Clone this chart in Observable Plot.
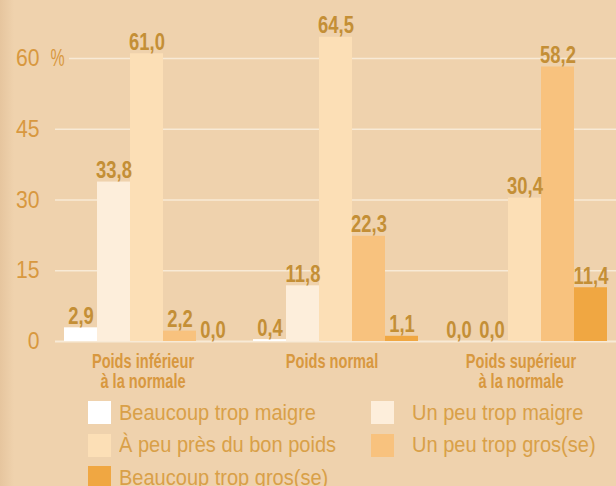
<!DOCTYPE html>
<html>
<head>
<meta charset="utf-8">
<script src="https://cdn.jsdelivr.net/npm/d3@7"></script>
<script src="https://cdn.jsdelivr.net/npm/@observablehq/plot@0.6"></script>
<style>
  html, body { margin: 0; padding: 0; }
  body {
    width: 616px; height: 486px; overflow: hidden;
    background: linear-gradient(to right, #E6C59E 0px, #EFD2AD 14px, #EFD2AD 100%);
    font-family: "Liberation Sans", Arial, sans-serif;
  }
  #chart svg { display: block; }
  .legend {
    display: grid;
    grid-template-columns: 283px auto;
    row-gap: 9.5px;
    padding-left: 88px;
    padding-top: 6px;
    color: #D9A048;
    font-size: 22px;
  }
  .item { display: flex; align-items: center; height: 23px; white-space: nowrap; }
  .sw { width: 23px; height: 23px; margin-right: 8px; flex: none; }
  .item.c2 .sw { margin-right: 18px; }
  .lbl { display: inline-block; transform: scaleX(0.91); transform-origin: 0 50%; }
</style>
</head>
<body>
<div id="chart"></div>
<div class="legend" id="legend"></div>
<script>
const groups = ["Poids inférieur\nà la normale", "Poids normal", "Poids supérieur\nà la normale"];
const series = ["Beaucoup trop maigre", "Un peu trop maigre", "À peu près du bon poids", "Un peu trop gros(se)", "Beaucoup trop gros(se)"];
const seriesColors = ["#FFFFFF", "#FDEEDB", "#FCDFB6", "#F8C27E", "#F0A742"];
const valuesInferieur = [2.9, 33.8, 61.0, 2.2, 0.0];
const valuesNormal = [0.4, 11.8, 64.5, 22.3, 1.1];
const valuesSuperieur = [0.0, 0.0, 30.4, 58.2, 11.4];
const yTicks = [0, 15, 30, 45, 60];

const valuesByGroup = [valuesInferieur, valuesNormal, valuesSuperieur];
const data = [];
groups.forEach((g, gi) => series.forEach((s, si) => data.push({group: g, series: s, value: valuesByGroup[gi][si]})));

const gridColor = "#F8EAD6";
const tickColor = "#D8983F";
const valueColor = "#C48F36";
const catColor = "#D8983F";

const firstFacetTicks = yTicks.filter(t => t !== 60).map(t => ({g: groups[0], v: t}));
const otherFacetTicks = groups.slice(1).flatMap(g => yTicks.map(t => ({g, v: t})));

const chart = Plot.plot({
  width: 616,
  height: 395,
  marginLeft: 51,
  marginRight: -3,
  marginTop: 58,
  marginBottom: 54,
  style: {background: "transparent", fontFamily: "'Liberation Sans', Arial, sans-serif", overflow: "visible"},
  fx: {domain: groups, paddingInner: 0, paddingOuter: 0, axis: null, label: null},
  x: {domain: series, paddingInner: 0, paddingOuter: 0.35, axis: null, round: true},
  y: {domain: [0, 60], axis: null},
  color: {domain: series, range: seriesColors},
  marks: [
    Plot.ruleY(firstFacetTicks, {fx: "g", y: "v", stroke: gridColor, strokeWidth: d => d.v === 0 ? 2 : 1.3, insetLeft: 3}),
    Plot.ruleY([{g: groups[0], v: 60}], {fx: "g", y: "v", stroke: gridColor, strokeWidth: 1.3, insetLeft: 17}),
    Plot.ruleY(otherFacetTicks, {fx: "g", y: "v", stroke: gridColor, strokeWidth: d => d.v === 0 ? 2 : 1.3}),
    Plot.barY(data, {fx: "group", x: "series", y: "value", fill: "series", inset: 0}),
    Plot.text(data, {
      fx: "group", x: "series", y: "value",
      text: d => d.value.toFixed(1).replace(".", ","),
      lineAnchor: "bottom", dy: -4,
      fill: valueColor, fontWeight: "bold", fontSize: 23
    }),
    Plot.text(yTicks, {
      fx: () => groups[0], y: d => d, text: d => String(d),
      frameAnchor: "left", textAnchor: "end", dx: -13,
      fill: tickColor, fontSize: 23.5
    }),
    Plot.text([60], {
      fx: () => groups[0], y: d => d, text: () => "%",
      frameAnchor: "left", textAnchor: "start", dx: -2,
      fill: tickColor, fontSize: 23.4
    }),
    Plot.text(groups, {
      fx: d => d, text: d => d,
      frameAnchor: "bottom", lineAnchor: "top", dy: 12, dx: -4,
      lineHeight: 1.0,
      fill: catColor, fontWeight: "bold", fontSize: 20
    })
  ]
});
document.getElementById("chart").appendChild(chart);

// condensed look: horizontal scaling of the label text, keyed by font size
const condense = {"23": 0.8, "20": 0.73, "23.5": 0.9, "23.4": 0.68};
chart.querySelectorAll("text").forEach(t => {
  const fsEl = t.closest("[font-size]");
  const fs = fsEl ? fsEl.getAttribute("font-size") : null;
  const s = condense[fs];
  if (!s) return;
  const tr = t.getAttribute("transform");
  if (tr) {
    t.setAttribute("transform", tr + ` scale(${s},1)`);
  } else {
    const x = +t.getAttribute("x") || 0, y = +t.getAttribute("y") || 0;
    t.removeAttribute("x"); t.removeAttribute("y");
    t.setAttribute("transform", `translate(${x},${y}) scale(${s},1)`);
  }
});

const legend = document.getElementById("legend");
series.forEach((s, i) => {
  const item = document.createElement("div");
  item.className = "item" + (i % 2 === 1 ? " c2" : "");
  const sw = document.createElement("span");
  sw.className = "sw";
  sw.style.background = seriesColors[i];
  const label = document.createElement("span");
  label.className = "lbl";
  label.textContent = s;
  item.appendChild(sw);
  item.appendChild(label);
  legend.appendChild(item);
});
</script>
</body>
</html>
